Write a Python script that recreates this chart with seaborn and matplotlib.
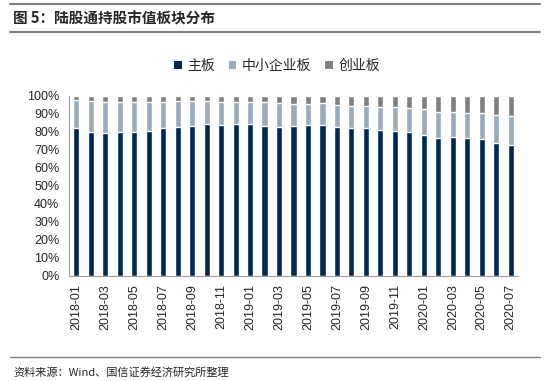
import numpy as np
import pandas as pd
import matplotlib
matplotlib.use("Agg")
import matplotlib.pyplot as plt
from matplotlib.patches import Patch
from matplotlib.lines import Line2D
import seaborn as sns

# data (share of northbound holdings, %)
months = [f"{y}-{m:02d}" for y in (2018, 2019, 2020) for m in range(1, 13)][:31]
main_board = [82.4, 80.2, 79.3, 79.8, 80.2, 80.6, 82.0, 82.6, 83.1, 84.3, 83.9, 84.4,
              84.6, 83.1, 82.8, 83.1, 83.8, 83.9, 82.8, 82.4, 82.1, 81.3, 80.6, 80.2,
              78.3, 76.5, 77.4, 76.8, 75.9, 73.7, 72.8]
sme_board = [15.4, 17.2, 17.6, 17.1, 16.7, 16.3, 14.9, 14.6, 14.1, 12.9, 13.0, 12.5,
             11.9, 13.4, 13.3, 12.6, 12.0, 12.0, 12.2, 12.2, 12.2, 12.6, 13.1, 13.3,
             14.5, 14.8, 13.9, 13.9, 14.5, 15.7, 16.3]
chinext = [2.2, 2.6, 3.1, 3.1, 3.1, 3.1, 3.1, 2.8, 2.8, 2.8, 3.1, 3.1,
           3.5, 3.5, 3.9, 4.3, 4.2, 4.1, 5.0, 5.4, 5.7, 6.1, 6.3, 6.5,
           7.2, 8.7, 8.7, 9.3, 9.6, 10.6, 10.9]
series_names = ["主板", "中小企业板", "创业板"]
colors = ["#002856", "#9AABBD", "#808080"]

df = pd.DataFrame({"month": months, "主板": main_board,
                   "中小企业板": sme_board, "创业板": chinext})
df["lvl1"] = df["主板"]
df["lvl2"] = df["主板"] + df["中小企业板"]
df["lvl3"] = df["lvl2"] + df["创业板"]

sns.set_style("white")
plt.rcParams["font.family"] = ["Liberation Sans", "Noto Sans CJK SC"]
cjk = ["Noto Sans CJK SC", "Liberation Sans"]

fig = plt.figure(figsize=(5.5, 3.81), dpi=100)
ax = fig.add_axes([69 / 550, 1 - 276 / 381, 449 / 550, 180 / 381])

# stacked bars: draw cumulative totals from the top layer down
for col, c in zip(["lvl3", "lvl2", "lvl1"], colors[::-1]):
    sns.barplot(data=df, x="month", y=col, color=c, width=0.42,
                saturation=1, ax=ax)

ax.set_xlim(-0.5, len(months) - 0.5)
ax.set_ylim(0, 100)
ax.set_xlabel("")
ax.set_ylabel("")

ax.set_yticks(np.arange(0, 101, 10))
ax.set_yticklabels([f"{v}%" for v in range(0, 101, 10)], fontsize=9)
ax.set_xticks(np.arange(0, len(months), 2))
ax.set_xticklabels(months[::2], rotation=90, fontsize=9)
ax.set_xticks(np.arange(-0.5, len(months), 2), minor=True)
ax.tick_params(axis="x", which="major", length=0, pad=6)
ax.tick_params(axis="x", which="minor", length=4, color="#A0A0A0", width=0.8)
ax.tick_params(axis="y", length=4, color="#A0A0A0", width=0.8, pad=3)

for s in ["top", "right"]:
    ax.spines[s].set_visible(False)
for s in ["left", "bottom"]:
    ax.spines[s].set_color("#A0A0A0")
    ax.spines[s].set_linewidth(0.8)

handles = [Patch(facecolor=c, edgecolor="none") for c in colors]
fig.legend(handles, series_names, loc="center", bbox_to_anchor=(277 / 550, 1 - 66 / 381),
           ncol=3, frameon=False, prop={"family": cjk, "size": 10},
           handlelength=0.55, handleheight=0.55, handletextpad=0.4, columnspacing=1.0)

# header and footer
fig.add_artist(Line2D([0.018, 0.982], [1 - 4 / 381] * 2, color="#808080", lw=1.5))
fig.add_artist(Line2D([0.018, 0.982], [1 - 32 / 381] * 2, color="#808080", lw=1.5))
fig.text(13 / 550, 1 - 18 / 381, "图 5：陆股通持股市值板块分布", family=cjk,
         fontsize=10.5, fontweight="bold", va="center", ha="left")
fig.add_artist(Line2D([0.018, 0.982], [1 - 357 / 381] * 2, color="#808080", lw=1.0))
fig.text(13 / 550, 1 - 372 / 381, "资料来源：Wind、国信证券经济研究所整理", family=cjk,
         fontsize=8, va="center", ha="left")

fig.savefig("out.png", dpi=100)
